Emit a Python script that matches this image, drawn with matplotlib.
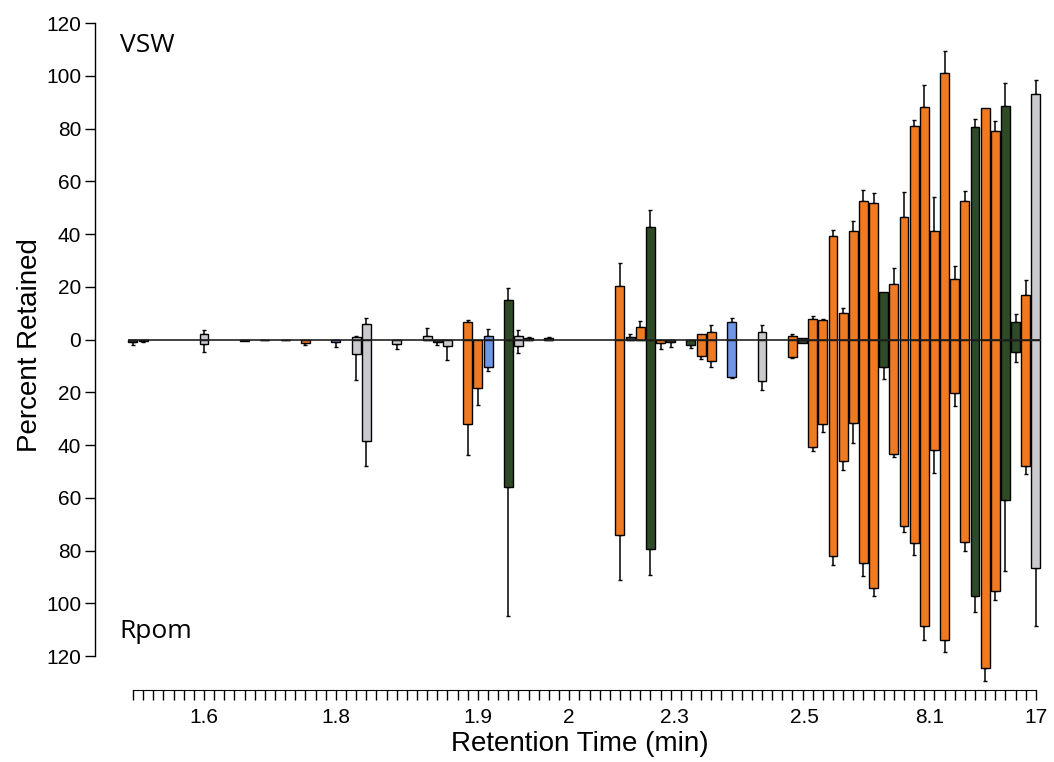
import matplotlib
matplotlib.use("Agg")
from matplotlib import pyplot as plt
from matplotlib.ticker import FixedLocator
import numpy as np

# compound slot along the retention-time ruler (one tick per compound)
slots = [0, 1, 7, 11, 13, 15, 17, 20, 22, 23, 26, 29, 30, 31, 33, 34, 35, 37, 38, 39, 41,
         48, 49, 50, 51, 52, 53, 55, 56, 57, 59, 62, 65, 66,
         67, 68, 69, 70, 71, 72, 73, 74, 75, 76, 77, 78, 79, 80, 81, 82, 83, 84, 85, 86, 87, 88, 89]

# compound class -> colour
classes = ["dark", "dark", "gray", "dark", "gray", "gray", "orange", "blue", "gray", "gray", "gray",
           "gray", "dark", "gray", "orange", "orange", "blue", "green", "gray", "dark", "dark",
           "orange", "dark", "orange", "green", "orange", "dark", "green", "orange", "orange", "blue", "gray", "orange", "dark",
           "orange", "orange", "orange", "orange", "orange", "orange", "orange", "green", "orange", "orange", "orange",
           "orange", "orange", "orange", "orange", "orange", "green", "orange", "orange", "green", "green", "orange", "gray"]

# percent retained on VSW (up) and Rpom (down), with error
vsw = [0, 0, 2, 0, 0, 0, 0, 0, 1, 5.8, 0, 1.2, 0, 0, 6.8, 0, 1.2, 15.1, 1.5, 0.5, 0.6,
       20.4, 1, 4.9, 42.8, 0, 0, 0, 2, 2.8, 6.5, 2.8, 1.4, 0.7,
       7.7, 7.4, 39.4, 10, 41.3, 52.4, 51.7, 18.2, 20.9, 46.5, 80.9, 88, 41, 101.2, 23.1, 52.7, 80.7, 87.7, 79.1, 88.7, 6.5, 16.7, 93]
vsw_err = [0, 0, 1.5, 0, 0, 0, 0, 0, 0.5, 2.5, 0, 3.3, 0, 0, 0.6, 0, 2.8, 4.3, 2, 0.3, 0.5,
           8.5, 1.2, 2.2, 6.2, 0, 0, 0, 0, 2.8, 1.8, 2.7, 0.8, 0,
           1.2, 0.5, 2, 2, 3.7, 4.4, 3.8, 0, 6.3, 9.6, 2.5, 8.5, 12.9, 8, 4.7, 3.6, 3, 0, 3.7, 8.6, 3, 5.8, 5.4]
rpom = [1, 0.6, 1.6, 0.5, 0.3, 0.3, 1.2, 1, 5.4, 38.5, 1.8, 0, 1, 2.6, 32, 18.2, 10.4, 56, 2.5, 0, 0,
        74, 0, 0, 79.4, 1.5, 1, 2.2, 6.1, 8, 14.1, 15.6, 6.5, 1.3,
        40.9, 32, 82, 46, 31.8, 84.9, 94.3, 10.4, 43.3, 70.7, 77.2, 108.8, 42, 113.8, 20.4, 76.8, 97.3, 124.4, 95.2, 60.8, 4.8, 47.9, 86.8]
rpom_err = [1, 0.5, 3, 0, 0, 0, 1, 2, 9.8, 9.5, 1.8, 0, 1, 5.2, 11.8, 6.8, 1.5, 49, 2.5, 0, 0,
            17, 0, 0, 9.7, 2, 2, 1, 1.3, 2.6, 0.4, 3.5, 0.7, 0,
            1.5, 3, 3.6, 3.5, 7.4, 4.9, 3, 4.4, 1.3, 2.2, 4.4, 5, 8.8, 4.5, 4.8, 3.2, 6.1, 4.9, 3.6, 27, 3.9, 3.2, 21.8]

# retention-time labels on the ruler
rt_labels = ["1.6", "1.8", "1.9", "2", "2.3", "2.5", "8.1", "17"]
rt_label_slots = [7, 20, 34, 43, 53.4, 66.2, 78.5, 89]
n_slots = 90
yticks = [-120, -100, -80, -60, -40, -20, 0, 20, 40, 60, 80, 100, 120]

palette = {"orange": "#F07A22", "green": "#2F4A27", "blue": "#6E96E6",
           "gray": "#C9C9CE", "dark": "#3A4436"}

plt.rcParams["font.family"] = ["Liberation Sans", "DejaVu Sans"]

fig = plt.figure(figsize=(10.54, 7.62), dpi=100)
ax = fig.add_axes([0.0901, 0.1391, 0.9013, 0.8307])

x = np.array(slots)
cols = [palette[c] for c in classes]
up = np.array(vsw)
dn = -np.array(rpom)
ax.bar(x, up, width=0.88, color=cols, edgecolor="black", linewidth=1.0, zorder=2, clip_on=False)
ax.bar(x, dn, width=0.88, color=cols, edgecolor="black", linewidth=1.0, zorder=2, clip_on=False)

ue = np.array(vsw_err)
de = np.array(rpom_err)
m = ue > 0
eb = ax.errorbar(x[m], up[m], yerr=[np.zeros(m.sum()), ue[m]], fmt="none",
                 ecolor="black", elinewidth=1.1, capsize=1.5, zorder=1)
for art in eb.lines[1] + eb.lines[2]:
    art.set_clip_on(False)
m = de > 0
eb = ax.errorbar(x[m], dn[m], yerr=[de[m], np.zeros(m.sum())], fmt="none",
                 ecolor="black", elinewidth=1.1, capsize=1.5, zorder=1)
for art in eb.lines[1] + eb.lines[2]:
    art.set_clip_on(False)

ax.hlines(0, -0.5, n_slots - 0.5, color="#222222", linewidth=1.2, zorder=3)

ax.set_xlim(-3.745, 89.89)
ax.set_ylim(-120, 120)
ax.set_yticks(yticks)
ax.set_yticklabels([str(abs(v)) for v in yticks])
ax.tick_params(axis="y", direction="out", length=7, width=1, labelsize=15, pad=3)
ax.set_xticks([])
for s in ["top", "right", "bottom"]:
    ax.spines[s].set_visible(False)
ax.spines["left"].set_linewidth(1)

ax.text(0.026, 0.965, "VSW", transform=ax.transAxes, fontsize=19,
        family="Open Sans", va="center", ha="left")
ax.text(0.026, 0.038, "Rpom", transform=ax.transAxes, fontsize=19,
        family="Open Sans", va="center", ha="left")

# retention time ruler
ax2 = fig.add_axes([0.0901, 0.0945, 0.9013, 0.001])
ax2.set_xlim(ax.get_xlim())
for s in ["top", "right", "left"]:
    ax2.spines[s].set_visible(False)
ax2.spines["bottom"].set_bounds(0, n_slots - 1)
ax2.set_yticks([])
ax2.xaxis.remove_overlapping_locs = False
ax2.set_xticks(rt_label_slots)
ax2.set_xticklabels(rt_labels)
ax2.xaxis.set_minor_locator(FixedLocator(range(n_slots)))
ax2.tick_params(axis="x", which="major", length=0, labelsize=15, pad=13)
ax2.tick_params(axis="x", which="minor", direction="out", length=7, width=1)

fig.text(0.028, 0.547, "Percent Retained", rotation=90, ha="center", va="center", fontsize=20)
fig.text(0.55, 0.024, "Retention Time (min)", ha="center", va="center", fontsize=20)

fig.savefig("out.png", dpi=100)
